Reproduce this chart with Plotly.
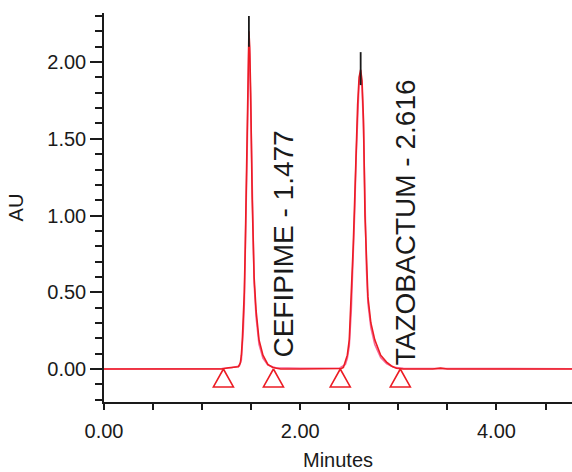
import plotly.graph_objects as go

# ---- data ----
red_t = [0.00, 1.00, 1.20, 1.27, 1.33, 1.37, 1.39, 1.40, 1.41, 1.42, 1.43, 1.44, 1.45, 1.46, 1.47, 1.477,
         1.485, 1.495, 1.51, 1.53, 1.55, 1.58, 1.62, 1.67, 1.72, 1.80, 2.00, 2.30, 2.42, 2.44, 2.46, 2.48,
         2.50, 2.52, 2.54, 2.555, 2.57, 2.585, 2.60, 2.616, 2.63, 2.645, 2.66, 2.675, 2.69, 2.72, 2.76,
         2.82, 2.88, 2.93, 2.98, 3.05, 3.35, 3.43, 3.50, 4.77]
red_au = [0.000, 0.000, 0.000, 0.008, 0.010, 0.015, 0.040, 0.090, 0.190, 0.320, 0.500, 0.800, 1.150, 1.550,
          1.950, 2.200, 2.100, 1.800, 1.120, 0.600, 0.380, 0.190, 0.090, 0.030, 0.010, 0.000, 0.000, 0.000,
          0.003, 0.010, 0.045, 0.090, 0.190, 0.450, 0.800, 1.100, 1.450, 1.720, 1.900, 1.950, 1.880, 1.620,
          1.000, 0.700, 0.470, 0.300, 0.190, 0.090, 0.045, 0.020, 0.005, 0.000, 0.000, 0.006, 0.000, 0.000]

pink_t = [0.00, 1.00, 1.20, 1.30, 1.38, 1.40, 1.41, 1.42, 1.43, 1.44, 1.45, 1.46, 1.47, 1.477, 1.485,
          1.495, 1.51, 1.53, 1.55, 1.58, 1.62, 1.67, 1.75, 2.00, 2.40, 2.46, 2.48, 2.50, 2.52, 2.54, 2.555,
          2.57, 2.585, 2.60, 2.616, 2.63, 2.645, 2.66, 2.675, 2.69, 2.72, 2.76, 2.82, 2.88, 2.95, 3.05,
          3.40, 4.77]
pink_au = [0.000, 0.000, 0.003, 0.008, 0.020, 0.060, 0.140, 0.260, 0.420, 0.700, 1.050, 1.450, 1.850,
           2.150, 2.050, 1.720, 1.050, 0.560, 0.340, 0.160, 0.070, 0.025, 0.008, 0.005, 0.006, 0.030,
           0.070, 0.150, 0.380, 0.720, 1.020, 1.380, 1.680, 1.870, 1.920, 1.840, 1.560, 0.950, 0.650,
           0.430, 0.270, 0.160, 0.075, 0.035, 0.012, 0.004, 0.003, 0.002]

peak_names = ["CEFIPIME - 1.477", "TAZOBACTUM - 2.616"]
peak_rt = [1.477, 2.616]
tip_top = [2.30, 2.065]
tip_bottom = [2.10, 1.85]
label_x = [1.827, 3.07]
label_y = [0.06, 0.013]

marker_t = [1.217, 1.727, 2.408, 3.020]

x_ticks = [0, 2, 4]
y_ticks = [0.0, 0.5, 1.0, 1.5, 2.0]

# ---- styles ----
RED = "#ec1c24"
PINK = "#f76a9a"
INK = "#1a1a1a"
FONT = "Liberation Sans, Arial, sans-serif"
TRI_HALF_W = 0.102   # minutes
TRI_H = 0.117        # AU

fig = go.Figure()

fig.add_trace(go.Scatter(x=pink_t, y=pink_au, mode="lines",
                         line=dict(color=PINK, width=1.6), hoverinfo="skip"))
fig.add_trace(go.Scatter(x=red_t, y=red_au, mode="lines",
                         line=dict(color=RED, width=1.6), hoverinfo="skip"))

# black apex ticks
tx, ty = [], []
for rt, top, bot in zip(peak_rt, tip_top, tip_bottom):
    tx += [rt, rt, None]
    ty += [bot, top, None]
fig.add_trace(go.Scatter(x=tx, y=ty, mode="lines", line=dict(color=INK, width=1.8), hoverinfo="skip"))

# open triangles marking peak start/end
trx, tr_y = [], []
for t in marker_t:
    trx += [t, t - TRI_HALF_W, t + TRI_HALF_W, t, None]
    tr_y += [0.0, -TRI_H, -TRI_H, 0.0, None]
fig.add_trace(go.Scatter(x=trx, y=tr_y, mode="lines", line=dict(color=RED, width=1.6), hoverinfo="skip"))

for name, lx, ly in zip(peak_names, label_x, label_y):
    fig.add_annotation(x=lx, y=ly, xref="x", yref="y", text=name, showarrow=False,
                       textangle=-90, xanchor="center", yanchor="bottom",
                       font=dict(family=FONT, size=28, color=INK))

fig.update_layout(
    width=572, height=472,
    margin=dict(l=104, r=0, t=13, b=70),
    paper_bgcolor="white", plot_bgcolor="white",
    showlegend=False,
    font=dict(family=FONT, size=20, color=INK),
)
fig.update_xaxes(
    range=[0, 4.77], tickvals=x_ticks, tickformat=".2f", automargin=False,
    ticks="outside", ticklen=6, tickwidth=1.5, tickcolor=INK,
    minor=dict(dtick=0.5, tick0=0, ticks="outside", ticklen=6, tickwidth=1.5, tickcolor=INK),
    showline=True, linecolor=INK, linewidth=1.5, showgrid=False, zeroline=False,
    ticklabelstandoff=4,
    title=dict(text="Minutes", font=dict(size=20), standoff=12),
)
fig.update_yaxes(
    range=[-0.215, 2.32], tickvals=y_ticks, tickformat=".2f", automargin=False,
    ticks="outside", ticklen=12, tickwidth=1.5, tickcolor=INK,
    minor=dict(dtick=0.1, tick0=0, ticks="outside", ticklen=7, tickwidth=1.5, tickcolor=INK),
    showline=True, linecolor=INK, linewidth=1.5, showgrid=False, zeroline=False,
    ticklabelstandoff=0,
    title=dict(text="AU", font=dict(size=20), standoff=18),
)

fig.write_html("out.html", config={"displayModeBar": False},
               post_script="document.body.style.margin='0';document.body.style.overflow='hidden';")
